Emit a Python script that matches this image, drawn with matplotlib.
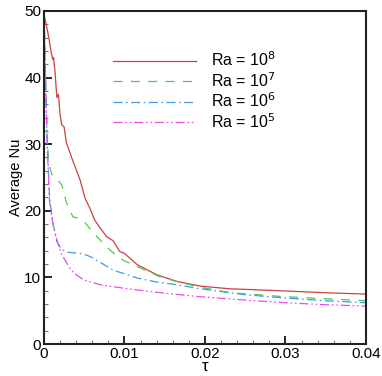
import matplotlib.pyplot as plt
from matplotlib.ticker import MultipleLocator, FixedFormatter, FixedLocator

plt.rcParams['font.family'] = ['Liberation Sans', 'DejaVu Sans']
plt.rcParams['lines.scale_dashes'] = False

# Ra = 1e8
tau_8 = [0.0, 0.0003, 0.0006, 0.0009, 0.0011, 0.0012, 0.0014, 0.0016, 0.0018, 0.002,
         0.0022, 0.0025, 0.0028, 0.0035, 0.0045, 0.0051, 0.0057, 0.0063, 0.0070,
         0.0078, 0.0086, 0.0094, 0.0100, 0.0116, 0.0140, 0.0165, 0.0194, 0.0230,
         0.0293, 0.0350, 0.0400]
nu_8 = [49.5, 47.9, 46.0, 43.8, 42.7, 43.0, 40.5, 37.0, 37.5, 34.5,
        32.9, 32.6, 30.2, 27.8, 24.6, 21.9, 20.4, 18.6, 17.4,
        16.1, 15.5, 13.9, 13.6, 11.9, 10.4, 9.4, 8.7, 8.3,
        8.0, 7.7, 7.5]

# Ra = 1e7
tau_7 = [0.0, 0.0002, 0.0004, 0.0006, 0.001, 0.0015, 0.0022, 0.0028, 0.0036, 0.0045,
         0.0051, 0.0066, 0.0082, 0.0098, 0.012, 0.0144, 0.0170, 0.0200, 0.0231,
         0.0300, 0.0350, 0.0400]
nu_7 = [50.0, 40.0, 31.0, 27.0, 25.4, 25.0, 23.9, 21.2, 19.1, 18.8,
        18.2, 16.1, 14.1, 12.6, 11.4, 10.1, 9.2, 8.4, 7.7,
        7.1, 6.8, 6.5]

# Ra = 1e6
tau_6 = [0.0, 0.0002, 0.0004, 0.0007, 0.0011, 0.0016, 0.0022, 0.0028, 0.0036, 0.0045,
         0.0054, 0.0061, 0.0086, 0.0116, 0.0140, 0.0165, 0.0194, 0.0250, 0.0300,
         0.0350, 0.0400]
nu_6 = [50.0, 40.0, 30.0, 22.0, 18.2, 15.4, 14.2, 13.8, 13.7, 13.6,
        13.3, 12.9, 11.1, 9.9, 9.3, 8.9, 8.3, 7.4, 6.9,
        6.5, 6.2]

# Ra = 1e5
tau_5 = [0.0, 0.0002, 0.0004, 0.0007, 0.0011, 0.0017, 0.0022, 0.0028, 0.0034, 0.0040,
         0.0050, 0.0070, 0.0098, 0.0130, 0.0169, 0.0194, 0.0250, 0.0300, 0.0350,
         0.0400]
nu_5 = [50.0, 40.0, 30.0, 21.2, 18.2, 15.2, 13.5, 12.2, 11.1, 10.4,
        9.6, 8.9, 8.4, 7.9, 7.4, 7.1, 6.6, 6.2, 5.9,
        5.7]

labels = ['Ra = 10$^8$', 'Ra = 10$^7$', 'Ra = 10$^6$', 'Ra = 10$^5$']

fig = plt.figure(figsize=(3.82, 3.76), dpi=100)
ax = fig.add_axes([0.115, 0.085, 0.843, 0.886])

ax.plot(tau_8, nu_8, color='#cc4040', lw=0.9, label=labels[0])
ax.plot(tau_7, nu_7, color='#4ccc4c', lw=0.9, dashes=(6.5, 6), label=labels[1])
ax.plot(tau_6, nu_6, color='#3f9be8', lw=0.9, dashes=(6.5, 2.5, 1.2, 2.5), label=labels[2])
ax.plot(tau_5, nu_5, color='#ea4cea', lw=0.9, dashes=(6.5, 2, 1.2, 2, 1.2, 2), label=labels[3])

ax.set_xlim(0, 0.04)
ax.set_ylim(0, 50)
ax.xaxis.set_major_locator(FixedLocator([0, 0.01, 0.02, 0.03, 0.04]))
ax.xaxis.set_major_formatter(FixedFormatter(['0', '0.01', '0.02', '0.03', '0.04']))
ax.xaxis.set_minor_locator(MultipleLocator(0.002))
ax.yaxis.set_major_locator(MultipleLocator(10))
ax.yaxis.set_minor_locator(MultipleLocator(2))

ax.tick_params(which='both', direction='in', top=False, right=False, labelsize=11, pad=2)
ax.tick_params(which='major', length=6, width=1.2)
ax.tick_params(which='minor', length=3, width=0.8, color='#777777')
for s in ax.spines.values():
    s.set_linewidth(1.5)
    s.set_color('#222222')

ax.set_xlabel('τ', fontsize=12, labelpad=-1)
ax.set_ylabel('Average Nu', fontsize=10.5, labelpad=1)

ax.legend(loc='upper left', bbox_to_anchor=(0.19, 0.905), frameon=False, fontsize=11.5,
          handlelength=5.2, handletextpad=0.9, labelspacing=0.12, borderpad=0)

fig.savefig('out.png', dpi=100)
